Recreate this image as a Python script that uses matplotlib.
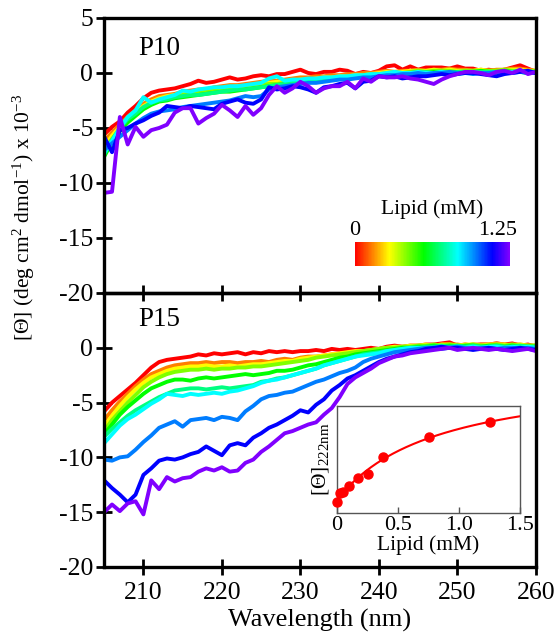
# CD spectra of P10 / P15 with lipid titration
import matplotlib.pyplot as plt
import matplotlib.colors as mcolors
import matplotlib.cm as cm
import numpy as np

# wavelengths (nm), 1 nm steps
wavelength = np.arange(205, 261)

# lipid concentrations of the spectra (mM)
lipid_levels = [0, 0.0125, 0.025, 0.05, 0.1, 0.175, 0.25, 0.375, 0.75, 1.25]

# P10 spectra, [Theta] x 10^-3
p10_red = [-5.6, -4.9, -4.4, -3.6, -3.0, -2.3, -1.8, -1.6, -1.5, -1.4,
           -1.2, -1.0, -0.7, -0.9, -0.8, -0.6, -0.4, -0.6, -0.5, -0.3,
           -0.2, -0.3, -0.1, -0.1, 0.1, 0.3, 0.0, -0.1, 0.1, 0.1,
           0.3, 0.2, -0.1, 0.1, 0.0, 0.2, 0.6, 0.7, 0.3, 0.6,
           0.3, 0.5, 0.5, 0.5, 0.4, 0.6, 0.4, 0.4, 0.2, 0.3,
           0.2, 0.3, 0.5, 0.7, 0.4, 0.1]
p10_orange = [-6.2, -5.4, -4.7, -4.0, -3.4, -2.8, -2.4, -2.1, -2.0, -1.9,
              -1.7, -1.6, -1.5, -1.5, -1.3, -1.2, -1.1, -1.1, -1.0, -0.9,
              -0.8, -0.7, -0.7, -0.6, -0.5, -0.4, -0.4, -0.3, -0.3, -0.2,
              -0.2, -0.1, -0.1, 0.0, 0.0, 0.1, 0.2, 0.1, 0.2, 0.2,
              0.3, 0.2, 0.3, 0.3, 0.4, 0.3, 0.3, 0.2, 0.3, 0.2,
              0.3, 0.3, 0.4, 0.4, 0.3, 0.2]
p10_yellow = [-6.7, -5.7, -4.9, -4.2, -3.6, -3.0, -2.6, -2.3, -2.1, -2.0,
              -1.8, -1.8, -1.6, -1.6, -1.5, -1.4, -1.3, -1.2, -1.2, -1.1,
              -1.0, -0.9, -0.8, -0.8, -0.7, -0.6, -0.6, -0.5, -0.4, -0.4,
              -0.3, -0.3, -0.2, -0.2, -0.1, 0.0, 0.1, 0.1, 0.1, 0.2,
              0.2, 0.2, 0.3, 0.2, 0.3, 0.2, 0.2, 0.2, 0.3, 0.2,
              0.2, 0.3, 0.3, 0.3, 0.2, 0.2]
p10_chartreuse = [-7.1, -6.0, -5.1, -4.4, -3.8, -3.2, -2.8, -2.5, -2.3, -2.2,
                  -2.0, -1.9, -1.8, -1.7, -1.6, -1.6, -1.5, -1.4, -1.3, -1.2,
                  -1.1, -1.0, -1.0, -0.9, -0.8, -0.7, -0.6, -0.6, -0.5, -0.4,
                  -0.4, -0.3, -0.3, -0.2, -0.1, -0.1, 0.0, 0.1, 0.0, 0.1,
                  0.2, 0.1, 0.2, 0.2, 0.2, 0.1, 0.2, 0.2, 0.1, 0.2,
                  0.2, 0.3, 0.2, 0.2, 0.1, 0.2]
p10_green = [-7.6, -6.3, -5.3, -4.5, -3.9, -3.3, -2.9, -2.6, -2.5, -2.3,
             -2.2, -2.1, -2.0, -1.9, -1.8, -1.7, -1.7, -1.6, -1.5, -1.4,
             -1.3, -1.2, -1.1, -1.0, -0.9, -0.8, -0.8, -0.7, -0.6, -0.5,
             -0.5, -0.4, -0.3, -0.3, -0.2, -0.2, -0.1, 0.0, -0.1, 0.0,
             0.1, 0.0, 0.1, 0.1, 0.0, 0.1, 0.0, 0.1, 0.2, 0.1,
             0.1, 0.2, 0.1, 0.1, 0.0, 0.1]
p10_spring = [-7.4, -6.1, -5.0, -4.2, -3.7, -3.1, -2.7, -2.5, -2.4, -2.2,
              -2.1, -2.0, -2.0, -1.9, -1.8, -1.7, -1.6, -1.5, -1.5, -1.4,
              -1.3, -1.2, -1.1, -1.0, -0.9, -0.9, -0.8, -0.7, -0.6, -0.6,
              -0.5, -0.5, -0.4, -0.3, -0.3, -0.2, -0.2, -0.1, -0.1, 0.0,
              0.0, 0.1, 0.0, 0.1, 0.0, 0.1, 0.1, 0.0, 0.1, 0.1,
              0.0, 0.1, 0.1, 0.2, 0.1, 0.1]
p10_cyan = [-7.3, -6.2, -5.0, -4.0, -3.4, -2.2, -2.7, -2.4, -2.2, -2.0,
            -1.6, -1.7, -1.5, -1.4, -1.3, -1.3, -1.2, -1.2, -1.1, -1.0,
            -0.9, -0.5, -0.3, -0.7, -0.6, -0.6, -0.5, -0.5, -0.4, -0.4,
            -0.3, -0.3, -0.2, -0.2, -0.1, -0.1, 0.0, 0.1, 0.0, 0.0,
            0.1, 0.0, 0.0, 0.1, 0.0, -0.1, 0.0, 0.1, 0.0, 0.0,
            0.1, 0.0, 0.1, 0.1, 0.0, 0.0]
p10_azure = [-7.0, -6.4, -5.8, -5.2, -4.6, -4.1, -3.7, -3.5, -3.4, -3.3,
             -3.1, -3.0, -2.9, -2.8, -2.7, -2.6, -2.5, -2.3, -2.1, -2.2,
             -2.1, -1.5, -1.3, -1.2, -1.1, -1.0, -0.9, -0.9, -0.8, -0.7,
             -0.6, -0.6, -0.5, -0.4, -0.4, -0.3, -0.2, -0.2, -0.1, -0.1,
             0.0, -0.1, 0.0, 0.0, 0.1, 0.0, 0.0, -0.1, 0.0, 0.0,
             0.1, 0.0, 0.0, 0.1, 0.0, 0.0]
p10_blue = [-5.8, -7.2, -5.2, -5.0, -4.6, -4.3, -3.9, -3.6, -3.0, -3.1,
            -3.2, -3.0, -3.1, -3.2, -3.3, -2.8, -2.6, -2.4, -2.7, -2.8,
            -2.4, -1.3, -1.5, -1.4, -1.2, -1.3, -1.5, -1.8, -1.3, -1.2,
            -1.0, -0.9, -1.4, -0.8, -0.7, -0.3, -0.4, -0.3, -0.5, -0.4,
            -0.3, -0.3, -0.2, -0.1, -0.2, -0.1, 0.0, 0.0, -0.1, -0.2,
            -0.3, -0.1, 0.0, 0.1, 0.2, 0.0]
p10_violet = [-10.9, -10.8, -4.0, -6.5, -4.9, -5.8, -5.2, -5.0, -4.7, -3.6,
              -3.2, -3.2, -4.6, -4.1, -3.7, -2.9, -3.4, -4.0, -3.0, -3.8,
              -3.2, -2.0, -1.2, -1.8, -1.4, -0.8, -1.2, -1.8, -1.4, -1.2,
              -1.2, -0.8, -1.4, -0.5, -0.8, -0.3, -0.4, -0.4, -0.3, -0.5,
              -0.6, -0.8, -1.0, -0.6, -0.3, -0.1, 0.1, 0.1, 0.0, -0.2,
              0.1, 0.2, 0.0, 0.3, -0.1, 0.1]

# P15 spectra, [Theta] x 10^-3
p15_red = [-5.8, -5.0, -4.4, -3.8, -3.2, -2.5, -1.8, -1.3, -1.1, -1.0,
           -0.9, -0.8, -0.6, -0.7, -0.5, -0.6, -0.5, -0.4, -0.6, -0.4,
           -0.5, -0.3, -0.4, -0.3, -0.4, -0.3, -0.3, -0.2, -0.3, -0.1,
           -0.2, -0.1, -0.2, -0.1, 0.0, -0.1, 0.1, 0.2, 0.1, 0.2,
           0.2, 0.3, 0.3, 0.4, 0.5, 0.2, 0.3, 0.2, 0.3, 0.3,
           0.4, 0.3, 0.4, 0.2, 0.3, 0.1]
p15_orange = [-6.6, -5.7, -4.9, -4.2, -3.5, -2.9, -2.4, -2.1, -1.8, -1.6,
              -1.5, -1.4, -1.4, -1.3, -1.4, -1.3, -1.3, -1.4, -1.3, -1.3,
              -1.2, -1.3, -1.1, -1.0, -1.1, -0.9, -0.8, -0.8, -0.7, -0.6,
              -0.6, -0.5, -0.4, -0.3, -0.3, -0.2, -0.1, 0.0, 0.0, 0.1,
              0.1, 0.2, 0.2, 0.3, 0.3, 0.3, 0.2, 0.3, 0.3, 0.3,
              0.4, 0.3, 0.3, 0.3, 0.2, 0.2]
p15_yellow = [-7.2, -6.2, -5.3, -4.5, -3.8, -3.2, -2.7, -2.4, -2.1, -1.9,
              -1.8, -1.7, -1.7, -1.6, -1.7, -1.7, -1.6, -1.7, -1.6, -1.5,
              -1.5, -1.4, -1.3, -1.2, -1.2, -1.0, -0.9, -0.8, -0.7, -0.6,
              -0.5, -0.4, -0.3, -0.3, -0.2, -0.1, 0.0, 0.1, 0.1, 0.2,
              0.2, 0.3, 0.2, 0.3, 0.3, 0.2, 0.3, 0.3, 0.2, 0.3,
              0.3, 0.3, 0.2, 0.3, 0.2, 0.2]
p15_chartreuse = [-7.6, -6.6, -5.8, -5.0, -4.3, -3.6, -3.1, -2.7, -2.4, -2.2,
                  -2.1, -2.0, -2.0, -1.9, -2.0, -1.9, -1.9, -1.8, -1.8, -1.7,
                  -1.7, -1.6, -1.5, -1.4, -1.3, -1.2, -1.1, -0.9, -0.8, -0.7,
                  -0.6, -0.5, -0.4, -0.3, -0.2, -0.1, 0.0, 0.0, 0.1, 0.1,
                  0.2, 0.2, 0.3, 0.2, 0.3, 0.2, 0.2, 0.3, 0.2, 0.2,
                  0.3, 0.2, 0.3, 0.2, 0.2, 0.2]
p15_green = [-7.9, -7.0, -6.1, -5.4, -4.8, -4.2, -3.7, -3.4, -3.1, -2.9,
             -2.9, -3.0, -2.8, -2.7, -2.8, -2.7, -2.6, -2.5, -2.4, -2.5,
             -2.4, -2.3, -2.1, -2.1, -2.0, -1.8, -1.6, -1.5, -1.3, -1.1,
             -0.9, -0.8, -0.6, -0.5, -0.4, -0.3, -0.2, -0.1, 0.0, 0.0,
             0.1, 0.1, 0.2, 0.1, 0.2, 0.1, 0.2, 0.2, 0.1, 0.2,
             0.2, 0.1, 0.2, 0.1, 0.1, 0.1]
p15_spring = [-8.1, -7.4, -6.8, -6.2, -5.7, -5.3, -4.9, -4.5, -4.2, -3.9,
              -3.8, -3.7, -3.7, -3.8, -3.7, -3.6, -3.7, -3.6, -3.5, -3.4,
              -3.1, -3.0, -2.8, -2.7, -2.5, -2.3, -2.1, -1.9, -1.6, -1.4,
              -1.2, -1.0, -0.8, -0.6, -0.5, -0.4, -0.3, -0.2, -0.1, 0.0,
              0.0, 0.1, 0.1, 0.2, 0.1, 0.2, 0.1, 0.2, 0.1, 0.1,
              0.2, 0.1, 0.1, 0.2, 0.1, 0.1]
p15_cyan = [-8.7, -7.9, -7.1, -6.5, -6.1, -5.6, -5.1, -4.7, -4.2, -4.3,
            -4.4, -4.2, -4.3, -4.2, -4.1, -4.2, -4.0, -3.9, -3.7, -3.5,
            -3.2, -3.0, -2.9, -2.7, -2.5, -2.3, -2.1, -1.9, -1.6, -1.4,
            -1.2, -1.0, -0.8, -0.7, -0.6, -0.5, -0.3, -0.2, -0.1, 0.0,
            0.0, -0.1, 0.0, 0.1, 0.0, 0.1, 0.0, 0.1, 0.0, 0.1,
            0.1, 0.0, 0.1, 0.0, 0.1, 0.0]
p15_azure = [-10.2, -10.3, -10.0, -9.9, -9.3, -8.6, -8.0, -7.3, -7.0, -6.7,
             -7.2, -6.6, -6.5, -6.4, -6.6, -6.3, -6.4, -6.6, -5.8, -5.3,
             -4.7, -4.4, -4.3, -4.1, -4.0, -3.7, -3.4, -3.1, -2.9, -2.6,
             -2.3, -2.1, -1.8, -1.3, -1.0, -0.8, -0.6, -0.4, -0.3, -0.2,
             -0.1, 0.0, 0.0, -0.1, 0.0, 0.1, 0.0, -0.1, 0.0, 0.0,
             -0.1, 0.0, 0.0, -0.1, 0.0, -0.1]
p15_blue = [-12.1, -12.8, -13.4, -14.1, -13.4, -11.6, -11.0, -10.3, -10.1, -10.2,
            -10.0, -9.7, -9.5, -9.0, -9.4, -9.8, -8.9, -8.7, -8.9, -8.2,
            -7.8, -7.3, -7.0, -6.6, -6.2, -5.7, -5.9, -5.2, -4.7, -3.9,
            -3.4, -2.8, -2.5, -2.1, -1.7, -1.3, -1.0, -0.8, -0.6, -0.4,
            -0.3, -0.1, 0.0, 0.1, 0.0, 0.0, -0.1, -0.2, -0.1, 0.0,
            -0.1, -0.2, -0.1, 0.0, -0.1, -0.2]
p15_violet = [-15.0, -14.3, -14.9, -14.2, -14.0, -15.2, -12.1, -12.9, -11.8, -12.2,
              -11.9, -11.8, -11.3, -11.0, -11.2, -10.9, -11.3, -11.2, -10.5, -10.2,
              -9.5, -9.0, -8.4, -7.8, -7.6, -7.3, -7.0, -6.8, -6.1, -5.5,
              -4.5, -3.3, -2.7, -2.3, -1.9, -1.4, -1.1, -0.8, -0.7, -0.5,
              -0.4, -0.3, -0.2, -0.1, 0.0, -0.2, -0.1, 0.0, -0.1, -0.2,
              -0.1, -0.2, -0.3, -0.2, -0.1, -0.3]

p10_spectra = [p10_red, p10_orange, p10_yellow, p10_chartreuse, p10_green,
               p10_spring, p10_cyan, p10_azure, p10_blue, p10_violet]
p15_spectra = [p15_red, p15_orange, p15_yellow, p15_chartreuse, p15_green,
               p15_spring, p15_cyan, p15_azure, p15_blue, p15_violet]

# inset: [Theta]222 (relative units) vs lipid
inset_lipid = [0, 0.025, 0.05, 0.1, 0.175, 0.25, 0.375, 0.75, 1.25]
inset_theta = [0.10, 0.19, 0.20, 0.25, 0.33, 0.37, 0.53, 0.71, 0.85]

# fonts
plt.rcParams['font.family'] = ['Liberation Serif', 'DejaVu Serif']
plt.rcParams['mathtext.fontset'] = 'custom'
plt.rcParams['mathtext.rm'] = 'Liberation Serif'
plt.rcParams['mathtext.it'] = 'Liberation Serif:italic'
plt.rcParams['axes.unicode_minus'] = False

# rainbow colormap red -> violet
hues = np.linspace(0, 0.75, 256)
rainbow = mcolors.ListedColormap(
    mcolors.hsv_to_rgb(np.column_stack([hues, np.ones(256), np.ones(256)])))
line_colors = [rainbow(i / (len(lipid_levels) - 1)) for i in range(len(lipid_levels))]

fig = plt.figure(figsize=(5.57, 6.35), dpi=100)
ax1 = fig.add_axes([0.187, 0.5386, 0.775, 0.4331])
ax2 = fig.add_axes([0.187, 0.1071, 0.775, 0.4315])


def style_panel(ax, yticks):
    ax.set_xlim(205, 260)
    ax.set_ylim(-20, 5)
    ax.set_xticks([210, 220, 230, 240, 250, 260])
    ax.set_yticks(yticks)
    ax.patch.set_alpha(0)
    for sp in ax.spines.values():
        sp.set_linewidth(2.4)
    ax.tick_params(direction='inout', length=12, width=2, labelsize=18.5, pad=2)
    ax.tick_params(axis='x', pad=5)


for spec, col in zip(p10_spectra, line_colors):
    ax1.plot(wavelength, spec, color=col, lw=2.8)
for spec, col in zip(p15_spectra, line_colors):
    ax2.plot(wavelength, spec, color=col, lw=2.8)

style_panel(ax1, [5, 0, -5, -10, -15, -20])
ax1.tick_params(axis='x', labelbottom=False)
style_panel(ax2, [0, -5, -10, -15, -20])

ax1.text(0.078, 0.865, 'P10', transform=ax1.transAxes, fontsize=19.5)
ax2.text(0.078, 0.878, 'P15', transform=ax2.transAxes, fontsize=19.5)

ax2.set_xlabel('Wavelength (nm)', fontsize=19, labelpad=3)
fig.text(0.043, 0.657, '[Θ] (deg cm$^{2}$ dmol$^{-1}$) x 10$^{-3}$',
         rotation=90, ha='center', va='center', fontsize=15.5)

# colorbar in the P10 panel
cax = fig.add_axes([0.637, 0.581, 0.278, 0.038])
sm = cm.ScalarMappable(norm=mcolors.Normalize(0, 1.25), cmap=rainbow)
cb = fig.colorbar(sm, cax=cax, orientation='horizontal')
cb.outline.set_visible(False)
cb.set_ticks([])
cax.text(0.0, 1.08, '0', transform=cax.transAxes, ha='center', va='bottom', fontsize=16)
cax.text(1.05, 1.08, '1.25', transform=cax.transAxes, ha='right', va='bottom', fontsize=16)
cax.text(0.5, 1.95, 'Lipid (mM)', transform=cax.transAxes, ha='center', va='bottom', fontsize=15.5)

# inset binding curve in P15 panel
axi = fig.add_axes([0.605, 0.192, 0.329, 0.168])
axi.set_facecolor('white')
# hyperbolic fit y = y0 + A*x/(K+x), least squares over K
x_pts = np.array(inset_lipid)
y_pts = np.array(inset_theta)
best = None
for K in np.linspace(0.05, 5, 500):
    M = np.column_stack([np.ones_like(x_pts), x_pts / (K + x_pts)])
    coef, res, _, _ = np.linalg.lstsq(M, y_pts, rcond=None)
    err = np.sum((M @ coef - y_pts) ** 2)
    if best is None or err < best[0]:
        best = (err, K, coef)
_, K_fit, (y0_fit, A_fit) = best
x_fit = np.linspace(0, 1.5, 200)
axi.plot(x_fit, y0_fit + A_fit * x_fit / (K_fit + x_fit), color='red', lw=1.5)
axi.plot(inset_lipid, inset_theta, 'o', color='red', ms=6.5, clip_on=False, zorder=5)
axi.set_xlim(0, 1.5)
axi.set_ylim(0, 1)
axi.set_xticks([0, 0.5, 1.0, 1.5])
axi.set_xticklabels(['0', '0.5', '1.0', '1.5'])
axi.set_yticks([])
for sp in axi.spines.values():
    sp.set_color('#555555')
    sp.set_linewidth(1)
axi.tick_params(axis='x', direction='in', length=4, width=1, color='#555555',
                labelsize=16, pad=2)
axi.set_xlabel('Lipid (mM)', fontsize=15.5, labelpad=0)
axi.set_ylabel('[Θ]$_{222\\mathrm{nm}}$', fontsize=15.5, labelpad=4)

fig.savefig('out.png', dpi=100)
